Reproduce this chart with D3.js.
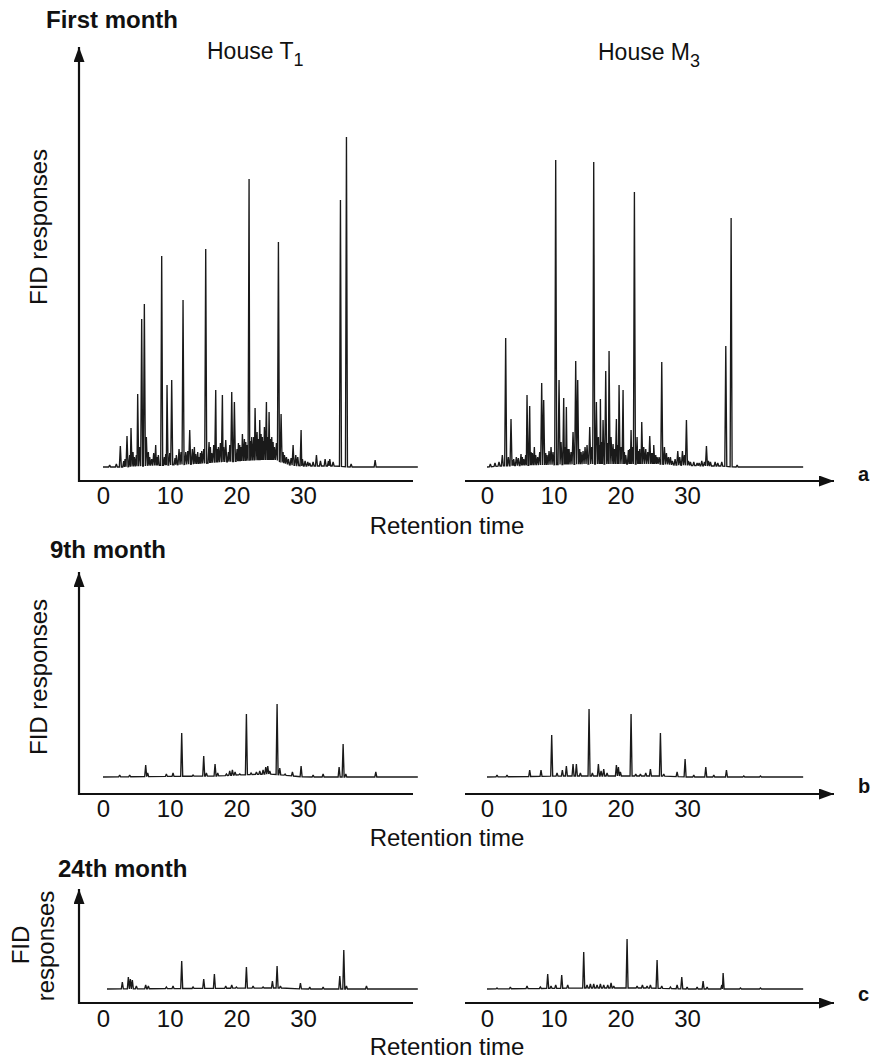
<!DOCTYPE html>
<html>
<head>
<meta charset="utf-8">
<script src="https://cdn.jsdelivr.net/npm/d3@7/dist/d3.min.js"></script>
<style>
  html, body { margin: 0; padding: 0; background: #ffffff; }
  svg { display: block; }
  text { font-family: "Liberation Sans", Arial, Helvetica, sans-serif; fill: #111; }
</style>
</head>
<body>
<svg id="chart" width="883" height="1060"></svg>
<script>
// ---------------- DATA (retention time, FID response in arbitrary units) ----------------
const tickValues = [0, 10, 20, 30];
const tickLabels = ["0", "10", "20", "30"];
const rowTitles = ["First month", "9th month", "24th month"];
const rowLetters = ["a", "b", "c"];
const houseNames = [["House T", "1"], ["House M", "3"]];
const xLabel = "Retention time";
const yLabel = "FID responses";

// First month, House T1 (major peaks)
const peaksT1m1 = [[1.0,2],[2.0,3],[2.6,21],[3.1,6],[3.6,31],[4.2,39],[4.7,10],[5.2,73],[5.5,20],[5.8,148],[6.2,163],[6.5,30],[6.8,15],[7.3,8],[7.9,22],[8.3,12],[8.8,211],[9.2,10],[9.6,82],[10.0,14],[10.3,87],[10.8,9],[11.4,18],[12.0,167],[12.4,15],[13.0,37],[13.4,18],[13.9,13],[14.4,10],[14.8,16],[15.4,218],[15.9,25],[16.3,14],[16.9,77],[17.3,20],[17.9,72],[18.4,27],[18.8,15],[19.3,75],[19.7,65],[20.1,18],[20.5,22],[20.9,33],[21.4,25],[21.9,288],[22.3,30],[22.8,59],[23.1,35],[23.5,47],[23.9,30],[24.2,40],[24.5,65],[24.9,55],[25.3,30],[25.7,20],[26.3,225],[26.7,53],[27.2,12],[27.8,8],[28.5,22],[28.9,12],[29.7,37],[30.3,6],[31.0,4],[32.0,12],[32.6,6],[33.3,8],[34.0,8],[35.6,267],[36.5,330],[37.2,3],[40.8,7]];
// First month, House T1 (minor peaks / noise floor)
const minorT1m1 = [[3.3,8],[4.0,12],[4.5,15],[5.0,12],[7.0,10],[7.6,14],[8.1,10],[9.4,13],[11.0,12],[11.7,15],[12.7,16],[13.7,20],[14.2,15],[14.6,14],[15.1,18],[16.1,20],[16.6,22],[17.1,18],[17.6,24],[18.1,20],[19.0,22],[20.3,24],[20.7,20],[21.2,28],[21.6,22],[22.1,26],[22.6,30],[23.3,28],[23.7,33],[24.0,26],[24.7,30],[25.1,28],[25.5,25],[26.0,24],[27.0,15],[27.5,10],[28.2,9],[29.2,10],[29.9,8],[30.7,5],[31.5,5],[33.8,6],[34.5,5]];
const driftT1m1 = [[0,0],[3,0],[6,1],[10,2],[14,3],[18,5],[21,6],[24,7],[26,7],[27,4],[28,2],[30,1],[35,1],[37,0],[47.2,0]];

// First month, House M3
const peaksM3m1 = [[0.5,3],[1.2,4],[2.3,12],[2.8,129],[3.2,10],[3.6,48],[4.0,8],[4.4,10],[5.1,13],[5.5,8],[6.0,72],[6.4,61],[6.8,14],[7.1,20],[7.6,10],[8.2,84],[8.5,67],[9.0,12],[9.6,20],[10.3,307],[10.8,87],[11.1,25],[11.5,69],[11.9,60],[12.3,18],[12.9,35],[13.3,106],[13.6,87],[14.1,15],[14.7,20],[15.4,40],[16.0,305],[16.4,65],[16.7,30],[17.0,68],[17.4,47],[17.8,96],[18.3,116],[18.6,30],[18.9,23],[19.4,48],[19.8,82],[20.1,20],[20.4,77],[20.8,12],[21.2,17],[21.6,37],[22.1,275],[22.5,30],[22.9,18],[23.2,45],[23.5,20],[23.8,18],[24.4,31],[24.7,14],[25.0,22],[25.5,10],[26.2,105],[26.6,20],[27.2,10],[27.8,6],[28.6,16],[29.3,16],[29.9,47],[30.5,5],[31.5,4],[32.2,6],[32.9,21],[33.5,5],[34.2,5],[35.8,121],[36.6,249],[37.5,2]];
const minorM3m1 = [[1.8,5],[3.9,7],[4.7,9],[5.3,10],[5.8,12],[6.6,15],[7.3,12],[7.9,15],[8.8,14],[9.3,16],[9.9,15],[11.7,20],[12.1,18],[12.6,15],[13.9,18],[14.4,16],[15.0,22],[15.7,20],[16.9,22],[17.2,25],[18.1,24],[19.1,18],[19.6,22],[20.6,15],[21.4,18],[21.8,20],[22.7,16],[23.0,14],[24.1,15],[24.9,14],[25.3,12],[25.8,10],[26.9,14],[27.5,10],[28.2,8],[28.9,10],[29.6,12],[30.2,6],[31.0,5],[31.8,4],[32.6,5],[33.2,6],[34.6,4],[35.2,5]];
const driftM3m1 = [[0,0],[2,1],[8,2],[15,3],[22,3],[26,3],[28,2],[33,1],[35,1],[37,0],[47.4,0]];

// 9th month, House T1
const peaksT1m9 = [[2.5,2],[4.0,2],[6.4,12],[6.7,4],[9.5,3],[10.5,4],[11.8,44],[13.5,2],[15.1,21],[15.5,4],[16.8,13],[17.2,4],[18.5,3],[19.0,6],[19.4,7],[19.8,5],[20.5,3],[21.5,63],[22.2,4],[23.0,5],[23.5,6],[24.0,7],[24.4,10],[24.7,11],[25.0,6],[26.1,73],[26.5,9],[27.3,3],[28.4,5],[29.7,11],[31.5,2],[33.0,3],[35.4,10],[36.0,33],[36.4,3],[40.9,5]];
const minorT1m9 = [];
const driftT1m9 = [[0,0],[17,1],[20,2],[25,3],[27,2],[30,0],[47.2,0]];

// 9th month, House M3
const peaksM3m9 = [[1.5,2],[3.0,2],[6.4,7],[8.1,7],[9.7,42],[10.5,4],[11.3,7],[11.9,11],[12.9,13],[13.4,13],[14.0,4],[15.3,68],[15.8,4],[16.7,13],[17.1,6],[17.5,8],[18.0,4],[19.4,12],[19.7,10],[20.0,5],[21.6,63],[22.3,3],[23.0,3],[23.8,4],[24.5,8],[26.0,44],[26.5,3],[28.5,5],[29.7,18],[31.0,2],[32.8,10],[34.0,2],[35.9,7],[38.5,1],[41.0,1]];
const minorM3m9 = [];
const driftM3m9 = [[0,0],[12,1],[20,1],[26,1],[30,0],[47.4,0]];

// 24th month, House T1
const peaksT1m24 = [[2.9,7],[3.8,12],[4.1,10],[4.4,9],[5.0,3],[6.4,4],[6.8,3],[9.5,2],[10.5,3],[11.8,28],[13.5,2],[15.1,10],[16.7,15],[18.4,3],[19.3,4],[20.0,2],[21.5,22],[22.5,3],[24.0,2],[25.4,8],[26.1,23],[26.6,3],[29.6,6],[31.0,2],[33.0,2],[35.5,13],[36.1,39],[36.5,3],[39.5,3]];
const minorT1m24 = [];
const driftT1m24 = [[0.6,0],[24,1],[27,1],[30,0],[47.2,0]];

// 24th month, House M3
const peaksM3m24 = [[1.5,1],[3.5,2],[6.0,3],[8.0,2],[9.1,15],[9.6,3],[10.3,4],[11.2,14],[12.1,4],[14.5,37],[15.0,4],[15.5,5],[16.0,5],[16.5,4],[17.0,5],[17.5,4],[18.1,4],[18.6,6],[19.0,3],[21.0,50],[22.5,3],[23.3,4],[24.0,3],[24.5,4],[25.5,29],[26.2,3],[27.5,2],[28.5,4],[29.2,12],[30.0,2],[31.5,2],[32.4,8],[33.0,2],[35.2,4],[35.4,16],[38.0,1],[41.0,1]];
const minorM3m24 = [];
const driftM3m24 = [[0,0],[15,1],[24,1],[30,0],[47.4,0]];

const series = [
  [ {peaks: peaksT1m1.concat(minorT1m1),   drift: driftT1m1},  {peaks: peaksM3m1.concat(minorM3m1),   drift: driftM3m1} ],
  [ {peaks: peaksT1m9.concat(minorT1m9),   drift: driftT1m9},  {peaks: peaksM3m9.concat(minorM3m9),   drift: driftM3m9} ],
  [ {peaks: peaksT1m24.concat(minorT1m24), drift: driftT1m24}, {peaks: peaksM3m24.concat(minorM3m24), drift: driftM3m24} ]
];

// ---------------- LAYOUT ----------------
const svg = d3.select("#chart");
const FONT = 24;

const cols = [
  { x0: 103, axisL: 79,  axisR: 413, arrow: false },
  { x0: 487, axisL: 465, axisR: 834, arrow: true }
];
const rows = [
  { base: 467, axisY: 481, tip: 47,  tickY: 504, title: [46, 28],  xlab: 534,  letterY: 481 },
  { base: 777, axisY: 794, tip: 572, tickY: 817, title: [50, 558], xlab: 846,  letterY: 793 },
  { base: 989, axisY: 1003, tip: 889, tickY: 1027, title: [58, 877], xlab: 1055, letterY: 1001 }
];
const pxPerUnit = 6.67;

const defs = svg.append("defs");
defs.append("marker")
  .attr("id", "arrow")
  .attr("viewBox", "0 0 15 11")
  .attr("refX", 15).attr("refY", 5.5)
  .attr("markerWidth", 15).attr("markerHeight", 11)
  .attr("markerUnits", "userSpaceOnUse")
  .attr("orient", "auto")
  .append("path").attr("d", "M0,0 L15,5.5 L0,11 Z").attr("fill", "#111");

function driftAt(drift, t) {
  if (t <= drift[0][0]) return drift[0][1];
  for (let i = 1; i < drift.length; i++) {
    if (t <= drift[i][0]) {
      const a = drift[i - 1], b = drift[i];
      return a[1] + (b[1] - a[1]) * (t - a[0]) / (b[0] - a[0]);
    }
  }
  return drift[drift.length - 1][1];
}

function tracePoints(peaks, drift, w) {
  const sorted = peaks.slice().sort((a, b) => a[0] - b[0]);
  const t0 = drift[0][0], t1 = drift[drift.length - 1][0];
  const pts = [[t0, driftAt(drift, t0)]];
  sorted.forEach((p, i) => {
    const prev = sorted[i - 1], next = sorted[i + 1];
    let left = p[0] - w, right = p[0] + w;
    if (prev && prev[0] + w > left) left = (prev[0] + p[0]) / 2;
    if (next && next[0] - w < right) right = (next[0] + p[0]) / 2;
    if (!prev || left > pts[pts.length - 1][0]) pts.push([left, driftAt(drift, left)]);
    pts.push([p[0], Math.max(p[1], driftAt(drift, p[0]))]);
    pts.push([right, driftAt(drift, right)]);
  });
  pts.push([t1, driftAt(drift, t1)]);
  return pts;
}

rows.forEach((r, ri) => {
  const y = d3.scaleLinear().domain([0, 400]).range([r.base, r.base - 400]);

  cols.forEach((c, ci) => {
    const x = d3.scaleLinear().domain([0, 30]).range([c.x0, c.x0 + 30 * pxPerUnit]);
    const xAxisScale = d3.scaleLinear()
      .domain([x.invert(c.axisL), x.invert(c.axisR)])
      .range([c.axisL, c.axisR]);
    const g = svg.append("g");

    const ax = g.append("g")
      .attr("transform", `translate(0,${r.axisY})`)
      .call(d3.axisBottom(xAxisScale).tickValues(tickValues)
        .tickFormat((d, i) => tickLabels[i]).tickSize(0).tickPadding(0));
    ax.select(".domain").attr("stroke", "#111").attr("stroke-width", 2.2)
      .attr("d", `M${c.axisL},0H${c.axisR}`)
      .attr("marker-end", c.arrow ? "url(#arrow)" : null);
    ax.selectAll(".tick text")
      .attr("y", r.tickY - r.axisY).attr("dy", 0)
      .style("font-family", '"Liberation Sans", Arial, Helvetica, sans-serif')
      .style("font-size", "24px").attr("fill", "#111");

    if (ci === 0) {
      g.append("line")
        .attr("x1", c.axisL).attr("x2", c.axisL)
        .attr("y1", r.axisY + 1).attr("y2", y(y.invert(r.tip)))
        .attr("stroke", "#111").attr("stroke-width", 2.2)
        .attr("marker-end", "url(#arrow)");
    }

    const s = series[ri][ci];
    const pts = tracePoints(s.peaks, s.drift, 0.15);
    const line = d3.line().x(d => x(d[0])).y(d => y(d[1]));
    g.append("path")
      .attr("d", line(pts))
      .attr("fill", "none")
      .attr("stroke", "#1a1a1a")
      .attr("stroke-width", 1.35)
      .attr("stroke-linejoin", "miter")
      .attr("stroke-miterlimit", 2);
  });

  svg.append("text")
    .attr("x", r.title[0]).attr("y", r.title[1])
    .attr("font-weight", "bold").attr("font-size", FONT)
    .text(rowTitles[ri]);

  svg.append("text")
    .attr("x", 447).attr("y", r.xlab)
    .attr("text-anchor", "middle").attr("font-size", FONT)
    .text(xLabel);

  svg.append("text")
    .attr("x", 858).attr("y", r.letterY)
    .attr("font-weight", "bold").attr("font-size", 20)
    .text(rowLetters[ri]);
});

svg.append("text")
  .attr("transform", "translate(47,227) rotate(-90)")
  .attr("text-anchor", "middle").attr("font-size", FONT)
  .text(yLabel);
svg.append("text")
  .attr("transform", "translate(47,677) rotate(-90)")
  .attr("text-anchor", "middle").attr("font-size", FONT)
  .text(yLabel);
const yl = yLabel.split(" ");
svg.append("text")
  .attr("transform", "translate(29,945) rotate(-90)")
  .attr("text-anchor", "middle").attr("font-size", FONT)
  .text(yl[0]);
svg.append("text")
  .attr("transform", "translate(54,946) rotate(-90)")
  .attr("text-anchor", "middle").attr("font-size", FONT)
  .text(yl[1]);

const housePos = [[207, 59], [598, 60]];
houseNames.forEach((h, i) => {
  const t = svg.append("text")
    .attr("x", housePos[i][0]).attr("y", housePos[i][1])
    .attr("font-size", 23);
  t.append("tspan").text(h[0]);
  t.append("tspan").attr("dy", 7).attr("font-size", 18).text(h[1]);
});
</script>
</body>
</html>
